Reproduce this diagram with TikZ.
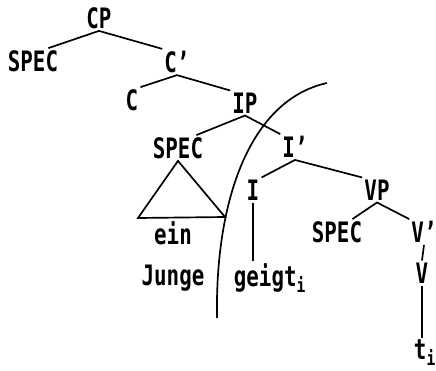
\documentclass[tikz,border=0pt]{standalone}
\usepackage{fontspec}
\setmainfont{DejaVu Sans Mono}[FakeStretch=0.74]
\begin{document}
\begin{tikzpicture}[x=0.025cm,y=-0.025cm,line width=1.2pt,
		every node/.style={font=\fontsize{20}{22}\selectfont\bfseries,inner sep=1pt}]
		\useasboundingbox (0,0) rectangle (436,370);
		\node (cp) at (99,18) {CP};
		\node (spec1) at (33,61) {SPEC};
		\node (cbar) at (177,62) {C'};
		\node (c) at (132,100) {C};
		\node (ip) at (245,103) {IP};
		\node (spec2) at (178,148) {SPEC};
		\node (ibar) at (295,147) {I'};
		\node (i) at (253,190) {I};
		\node (vp) at (377,190) {VP};
		\node (spec3) at (337,232) {SPEC};
		\node (vbar) at (424,232) {V'};
		\node (v) at (422,273) {V};
		\node (ein) at (173,233) {ein};
		\node (junge) at (173,278) {Junge};
		\node (geigt) at (270,278) {geigt\textsubscript{i}};
		\node (t) at (425,353) {t\textsubscript{i}};
		\coordinate (tl) at (138,218);
		\coordinate (tr) at (225,217);
		\draw (spec1.40)--(cp.south)--(cbar.north west);
		\draw (c.north east)--(cbar.south)--(ip.north west);
		\draw (spec2.35)--(ip.south)--(ibar.north west);
		\draw (i.north east)--(ibar.south)--(vp.north west);
		\draw (spec3.40)--(vp.south)--(vbar.north west);
		\draw (vbar.south)--(v.north);
		\draw (v.south)--(v.south |- t.north);
		\draw (i.south)--(i.south |- geigt.north);
		\draw (spec2.south)--(tl)--(tr)--cycle;
		\draw (327,83) .. controls (250,100) and (215,200) .. (217,318);
	\end{tikzpicture}
\end{document}
